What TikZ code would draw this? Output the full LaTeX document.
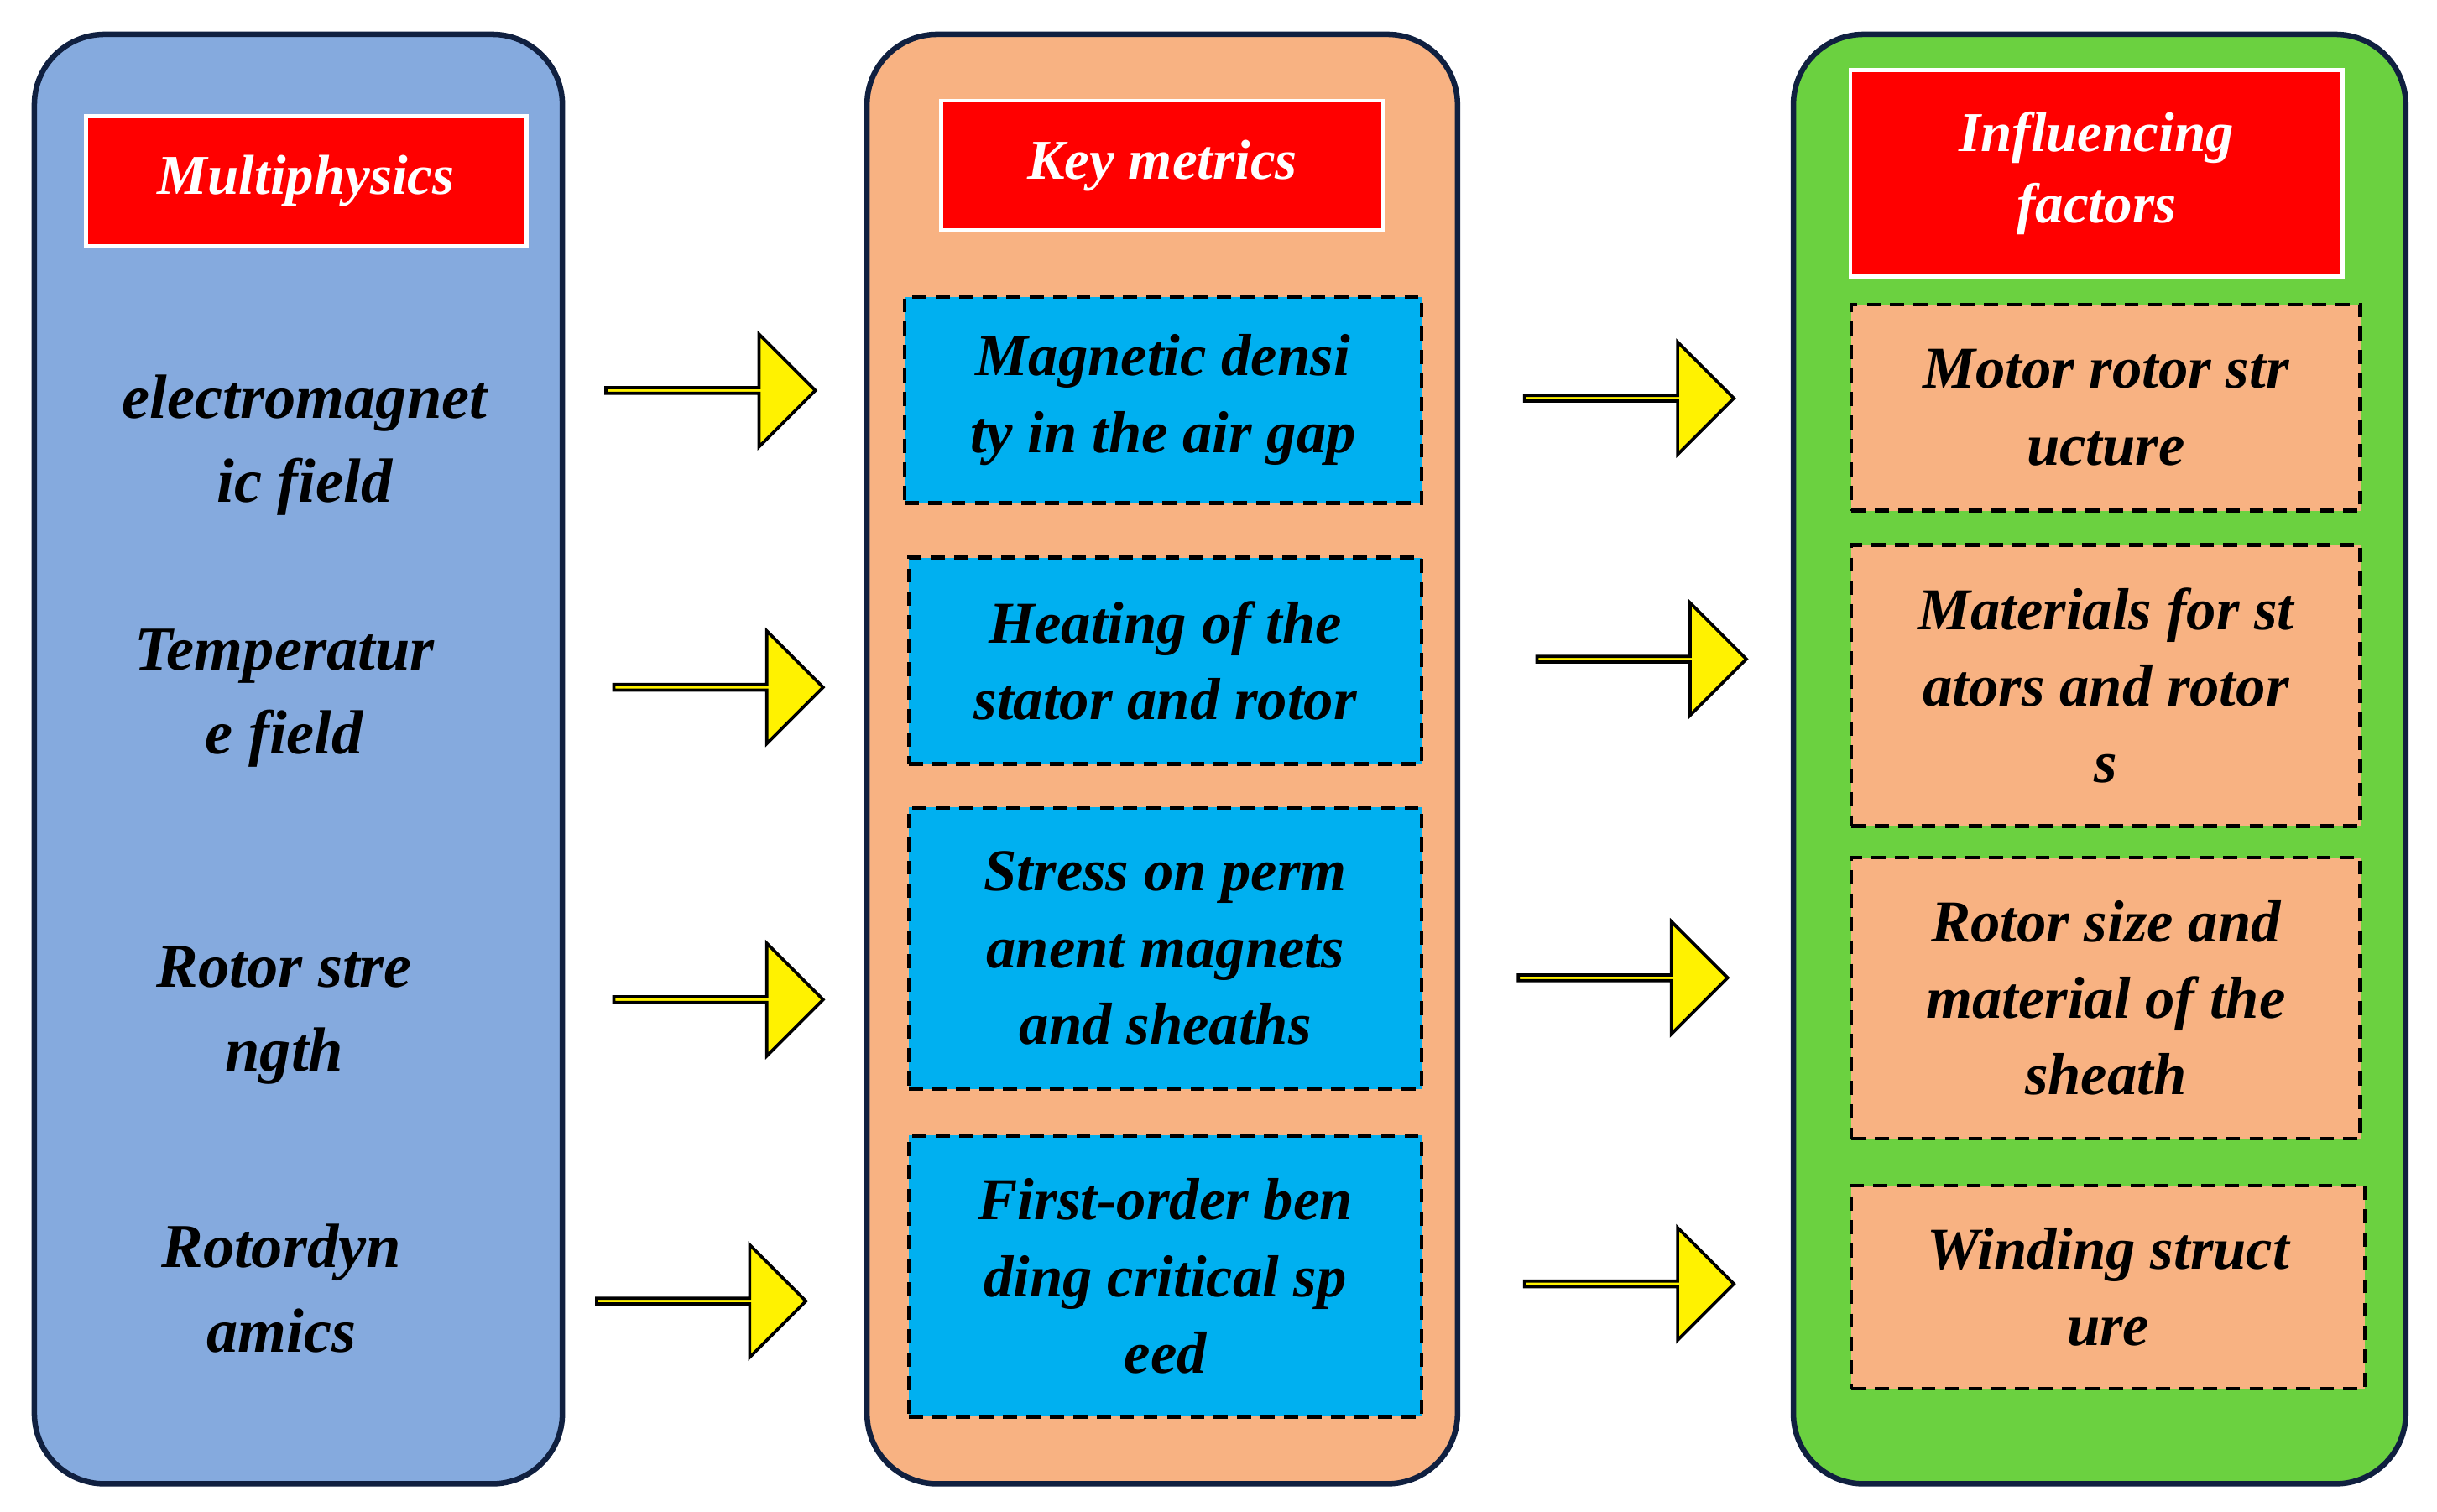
\documentclass[tikz,border=0pt]{standalone}
\usepackage{fontspec}
\setmainfont{Liberation Serif}
\usetikzlibrary{shapes.arrows}
\definecolor{panelblue}{RGB}{133,170,222}
\definecolor{panelorange}{RGB}{248,178,130}
\definecolor{panelgreen}{RGB}{107,209,64}
\definecolor{boxblue}{RGB}{0,176,240}
\definecolor{navy}{RGB}{16,32,64}
\tikzset{
  panel/.style={draw=navy, line width=3.5pt, rounded corners=45pt},
  title/.style={draw=white, line width=2.5pt, fill=red, text=white, align=center,
    font=\fontsize{36}{46}\selectfont\bfseries\itshape},
  item/.style={draw=black, dashed, line width=2.5pt, dash pattern=on 9pt off 6pt, align=center,
    font=\fontsize{38}{49}\selectfont\bfseries\itshape},
  label/.style={align=center, font=\fontsize{40}{54}\selectfont\bfseries\itshape},
  flow/.style={single arrow, draw=black, fill=yellow, line width=2pt,
    minimum height=134pt, minimum width=72pt, single arrow head extend=19pt, inner sep=0pt}
}
\begin{document}
\begin{tikzpicture}[x=1pt,y=-1pt]
\useasboundingbox (0,0) rectangle (1560,968);
% panels
\draw[panel, fill=panelblue] (22,22) rectangle (360,950);
\draw[panel, fill=panelorange] (555,22) rectangle (933,950);
\draw[panel, fill=panelgreen] (1148,22) rectangle (1540,950);
% titles
\node[title, minimum width=282pt, minimum height=83pt] (tphys) at (196,116) {Multiphysics};
\node[title, minimum width=283pt, minimum height=83pt] (tkey) at (744,106) {Key metrics};
\node[title, minimum width=315pt, minimum height=132pt] (tfac) at (1342,111) {Influencing\\factors};
% left labels
\node[label] (em) at (195,285) {electromagnet\\ic field};
\node[label] (temp) at (182,447) {Temperatur\\e field};
\node[label] (rs) at (182,650) {Rotor stre\\ngth};
\node[label] (rd) at (180,825) {Rotordyn\\amics};
% key metrics
\node[item, fill=boxblue, minimum width=331pt, minimum height=132pt] (m1) at (744.5,256) {Magnetic densi\\ty in the air gap};
\node[item, fill=boxblue, minimum width=328pt, minimum height=132pt] (m2) at (746,423) {Heating of the\\stator and rotor};
\node[item, fill=boxblue, minimum width=328pt, minimum height=180pt] (m3) at (746,607) {Stress on perm\\anent magnets\\and sheaths};
\node[item, fill=boxblue, minimum width=328pt, minimum height=180pt] (m4) at (746,817) {First-order ben\\ding critical sp\\eed};
% influencing factors
\node[item, fill=panelorange, minimum width=326pt, minimum height=132pt] (f1) at (1348,261) {Motor rotor str\\ucture};
\node[item, fill=panelorange, minimum width=326pt, minimum height=180pt] (f2) at (1348,439) {Materials for st\\ators and rotor\\s};
\node[item, fill=panelorange, minimum width=326pt, minimum height=180pt] (f3) at (1348,639) {Rotor size and\\material of the\\sheath};
\node[item, fill=panelorange, minimum width=329pt, minimum height=130pt] (f4) at (1349.5,824) {Winding struct\\ure};
% arrows
\node[flow] (a1) at (454,250) {};
\node[flow] (a2) at (459,440) {};
\node[flow] (a3) at (459,640) {};
\node[flow] (a4) at (448,833) {};
\node[flow] (b1) at (1042,255) {};
\node[flow] (b2) at (1050,422) {};
\node[flow] (b3) at (1038,626) {};
\node[flow] (b4) at (1042,822) {};
\end{tikzpicture}
\end{document}
